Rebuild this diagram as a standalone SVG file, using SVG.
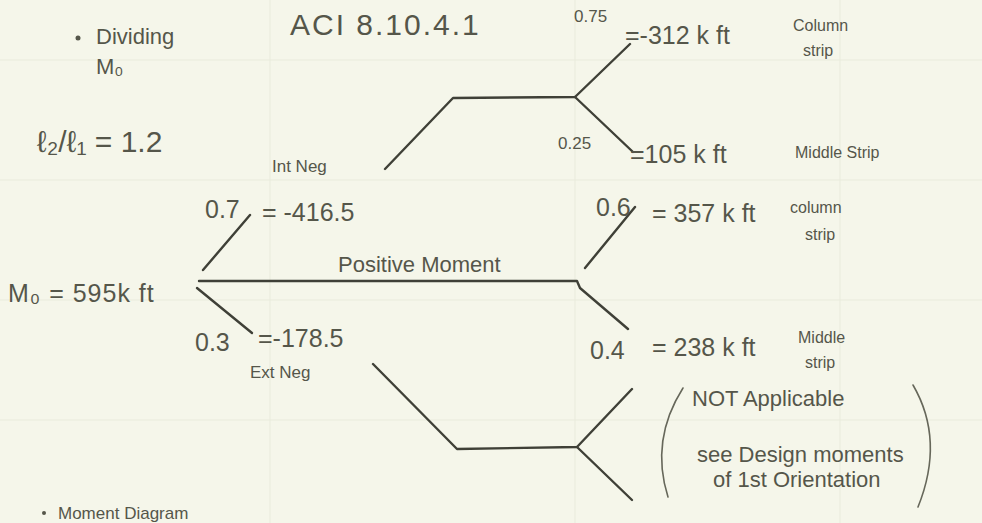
<svg xmlns="http://www.w3.org/2000/svg" width="982" height="523" viewBox="0 0 982 523">
<defs>
<style>
.bg{fill:#f5f6ea}
.grid{stroke:#e9ebdc;stroke-width:1}
text{font-family:"Liberation Sans","DejaVu Sans",sans-serif;fill:#55564a}
.ln{fill:none;stroke:#3f4037;stroke-width:2.4;stroke-linecap:round;stroke-linejoin:round}
.par{fill:none;stroke:#66675a;stroke-width:1.6;stroke-linecap:round}
.big{font-size:30px}
.val{font-size:25px}
.med{font-size:22px}
.sm{font-size:17px}
.xs{font-size:16px}
</style>
</defs>
<rect class="bg" x="0" y="0" width="982" height="523"/>
<g id="grid">
<line class="grid" x1="0" y1="60" x2="982" y2="60"/>
<line class="grid" x1="0" y1="180" x2="982" y2="180"/>
<line class="grid" x1="0" y1="300" x2="982" y2="300"/>
<line class="grid" x1="0" y1="420" x2="982" y2="420"/>
<line class="grid" x1="270" y1="0" x2="270" y2="523"/>
<line class="grid" x1="575" y1="0" x2="575" y2="523"/>
<line class="grid" x1="840" y1="0" x2="840" y2="523"/>
</g>
<g id="connectors">
<path class="ln" d="M203,270 L250,215"/>
<path class="ln" d="M199,281 L577,281 L580,288 L628,329"/>
<path class="ln" d="M197,288 L252,333"/>
<path class="ln" d="M385,169 L453,98 L575,97 L630,44"/>
<path class="ln" d="M575,97 L633,152"/>
<path class="ln" d="M585,268 L635,207"/>
<path class="ln" d="M373,364 L457,449 L577,447 L632,389"/>
<path class="ln" d="M577,447 L632,500"/>
<path class="par" d="M683,388 Q650,440 668,497"/>
<path class="par" d="M913,385 Q945,440 918,507"/>
</g>
<g id="title">
<text class="big" x="290" y="35" letter-spacing="2">ACI 8.10.4.1</text>
</g>
<g id="dividing">
<circle cx="78" cy="38" r="2.5" fill="#55564a"/>
<text class="med" x="96" y="44">Dividing</text>
<text class="med" x="96" y="74">M₀</text>
</g>
<g id="ratio">
<text class="big" x="37" y="152">ℓ₂/ℓ₁ = 1.2</text>
</g>
<g id="mo">
<text class="val" x="8" y="302" letter-spacing="1">M₀ = 595k ft</text>
</g>
<g id="int-neg">
<text class="sm" x="272" y="172">Int Neg</text>
<text class="val" x="205" y="218">0.7</text>
<text class="val" x="262" y="221">= -416.5</text>
</g>
<g id="positive">
<text class="med" x="338" y="272">Positive Moment</text>
</g>
<g id="ext-neg">
<text class="val" x="195" y="351">0.3</text>
<text class="val" x="258" y="347">=-178.5</text>
<text class="sm" x="250" y="378">Ext Neg</text>
</g>
<g id="col-strip-neg">
<text class="sm" x="574" y="22">0.75</text>
<text class="val" x="625" y="44">=-312 k ft</text>
<text class="xs" x="793" y="31">Column</text>
<text class="xs" x="803" y="56">strip</text>
</g>
<g id="mid-strip-neg">
<text class="sm" x="558" y="149">0.25</text>
<text class="val" x="630" y="163">=105 k ft</text>
<text class="xs" x="795" y="158">Middle Strip</text>
</g>
<g id="col-strip-pos">
<text class="val" x="596" y="216">0.6</text>
<text class="val" x="652" y="222">= 357 k ft</text>
<text class="xs" x="790" y="213">column</text>
<text class="xs" x="805" y="240">strip</text>
</g>
<g id="mid-strip-pos">
<text class="val" x="590" y="359">0.4</text>
<text class="val" x="652" y="356">= 238 k ft</text>
<text class="xs" x="798" y="343">Middle</text>
<text class="xs" x="805" y="368">strip</text>
</g>
<g id="not-applicable">
<text class="med" x="692" y="406">NOT Applicable</text>
<text class="med" x="697" y="462">see Design moments</text>
<text class="med" x="713" y="487">of 1st Orientation</text>
</g>
<g id="moment-diagram">
<circle cx="44" cy="513" r="2" fill="#55564a"/>
<text class="sm" x="58" y="519">Moment Diagram</text>
</g>
</svg>
